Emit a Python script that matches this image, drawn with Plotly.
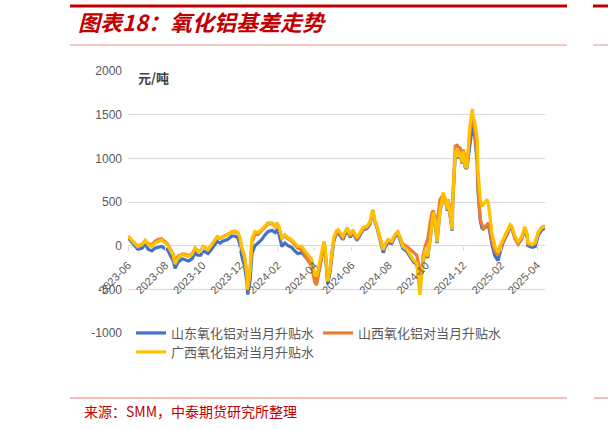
import plotly.graph_objects as go

# ---------------- data ----------------
dates = [
    "2023-06-01", "2023-06-04", "2023-06-09", "2023-06-14", "2023-06-17", "2023-06-24", "2023-06-29",
    "2023-07-04", "2023-07-10", "2023-07-15", "2023-07-20", "2023-07-26", "2023-07-31",
    "2023-08-05", "2023-08-10", "2023-08-14", "2023-08-17", "2023-08-22", "2023-08-29",
    "2023-09-03", "2023-09-08", "2023-09-14", "2023-09-19", "2023-09-23", "2023-09-28",
    "2023-10-02", "2023-10-07", "2023-10-10", "2023-10-15", "2023-10-18", "2023-10-25", "2023-10-30",
    "2023-11-03", "2023-11-11", "2023-11-18", "2023-11-23", "2023-11-28",
    "2023-12-01", "2023-12-04", "2023-12-09", "2023-12-13", "2023-12-14", "2023-12-18", "2023-12-21",
    "2023-12-26", "2023-12-31",
    "2024-01-06", "2024-01-11", "2024-01-16", "2024-01-23", "2024-01-28", "2024-01-31",
    "2024-02-03", "2024-02-08", "2024-02-13", "2024-02-18", "2024-02-24", "2024-02-29",
    "2024-03-05", "2024-03-12", "2024-03-17", "2024-03-22", "2024-03-28", "2024-03-30",
    "2024-04-02", "2024-04-05", "2024-04-10", "2024-04-14", "2024-04-17", "2024-04-19", "2024-04-22",
    "2024-04-23", "2024-04-27", "2024-04-30",
    "2024-05-03", "2024-05-07", "2024-05-10", "2024-05-18", "2024-05-25", "2024-05-30",
    "2024-06-03", "2024-06-10", "2024-06-15", "2024-06-20", "2024-06-26",
    "2024-07-01", "2024-07-06", "2024-07-09", "2024-07-13", "2024-07-18", "2024-07-23", "2024-07-26",
    "2024-07-31",
    "2024-08-06", "2024-08-11", "2024-08-16", "2024-08-19", "2024-08-24", "2024-08-31",
    "2024-09-05", "2024-09-10", "2024-09-16", "2024-09-18", "2024-09-21", "2024-09-25", "2024-09-26",
    "2024-09-30",
    "2024-10-04", "2024-10-08", "2024-10-11", "2024-10-13", "2024-10-16", "2024-10-19", "2024-10-21",
    "2024-10-24", "2024-10-27", "2024-10-29",
    "2024-11-01", "2024-11-05", "2024-11-06", "2024-11-09", "2024-11-13", "2024-11-14", "2024-11-18",
    "2024-11-21", "2024-11-23", "2024-11-26", "2024-11-29",
    "2024-12-01", "2024-12-04", "2024-12-07", "2024-12-09", "2024-12-12", "2024-12-16", "2024-12-17",
    "2024-12-20", "2024-12-24", "2024-12-25", "2024-12-29",
    "2025-01-01", "2025-01-03", "2025-01-09", "2025-01-11", "2025-01-14", "2025-01-17", "2025-01-22",
    "2025-01-27", "2025-01-30",
    "2025-02-04", "2025-02-11", "2025-02-16", "2025-02-19", "2025-02-24",
    "2025-03-01", "2025-03-07", "2025-03-12", "2025-03-16", "2025-03-17", "2025-03-24", "2025-03-29",
    "2025-04-03", "2025-04-09", "2025-04-14",
]

# 广西 (yellow)
guangxi = [
    110, 90, 50, 10, -10, 10, 60,
    10, -10, 30, 50, 65, 35,
    10, -60, -110, -210, -140, -100,
    -110, -125, -100, -25, -60, -65,
    -10, -30, -45, 0, 35, 105, 90,
    105, 125, 165, 170, 155,
    100, -10, -120, -330, -500, -260, 80,
    160, 150,
    185, 220, 262, 262, 222, 264,
    222, 92, 126, 92, 69, 31,
    -8, -8, -65, -103, -160, -250,
    -333, -353, -180, -80, 50, -23, -295,
    -410, -250, -65,
    92, 165, 184, 107, 207, 126,
    184, 92, 150, 207, 222,
    264, 414, 299, 222, 92, -46, 11,
    69,
    50, 126, 165, 92, -8, -46,
    -103, -160, -200, -353, -563, -276, -180,
    -46,
    -123, 69, 264, 380, 299, 40, 184,
    414, 494, 609,
    552, 414, 529, 356, 184, 529, 1069,
    1104, 1012, 1069, 954,
    1081, 908, 897, 1104, 1369, 1564, 1483,
    1414, 1219, 874, 529,
    449, 471, 529, 494, 333, 150, -8,
    -80, -8,
    69, 161, 241, 218, 103,
    46, 103, 218, 126, 34, 11, 34,
    150, 207, 218,
]

# 山西 (orange)
shanxi = [
    100, 85, 45, 10, -5, 15, 60,
    20, 10, 50, 70, 80, 50,
    20, -50, -100, -190, -120, -95,
    -100, -115, -95, -30, -60, -60,
    -10, -30, -45, 0, 30, 95, 85,
    100, 120, 155, 160, 145,
    90, -20, -140, -360, -510, -290, 40,
    130, 130,
    170, 210, 250, 255, 215, 258,
    215, 85, 115, 80, 55, 10,
    -30, -50, -110, -160, -240, -320,
    -420, -450, -230, -100, 20, -50, -330,
    -400, -260, -80,
    70, 145, 165, 90, 190, 110,
    165, 80, 135, 190, 205,
    250, 405, 290, 215, 85, -50, 10,
    60,
    45, 115, 155, 95, 20, -10,
    -40, -70, -110, -180, -280, -250, -120,
    0,
    80, 264, 380, 400, 330, 300, 350,
    529, 560, 563,
    520, 450, 529, 450, 414, 600, 1140,
    1150, 1130, 1120, 1060,
    1100, 1000, 930, 1050, 1300, 1500, 1450,
    1300, 1000, 700, 300,
    220, 200, 240, 260, 180, 60, -60,
    -110, -50,
    40, 140, 220, 200, 80,
    20, 90, 200, 100, 20, 10, 30,
    150, 210, 225,
]

# 山东 (blue)
shandong = [
    95, 70, 20, -20, -40, -30, 20,
    -40, -60, -30, -20, -10, -30,
    -50, -120, -170, -260, -190, -150,
    -160, -175, -150, -80, -110, -110,
    -60, -80, -90, -50, -20, 50, 30,
    50, 70, 110, 110, 90,
    20, -110, -240, -430, -560, -400, -90,
    0, 30,
    70, 120, 160, 175, 150, 175,
    140, -10, 30, 0, -20, -60,
    -90, -80, -120, -160, -220, -290,
    -380, -400, -230, -120, -10, -70, -380,
    -440, -300, -110,
    50, 130, 150, 70, 175, 95,
    150, 60, 120, 180, 195,
    240, 395, 280, 200, 65, -80, -20,
    40,
    25, 100, 140, 70, -30, -70,
    -125, -180, -215, -300, -320, -290, -200,
    -70,
    -140, 50, 245, 360, 280, 30, 170,
    400, 480, 590,
    540, 400, 510, 340, 170, 510, 1050,
    1090, 1000, 1050, 940,
    1060, 900, 880, 1000, 1200, 1370, 1330,
    1250, 950, 650, 280,
    200, 190, 220, 240, 140, 20, -120,
    -170, -90,
    30, 130, 210, 190, 80,
    20, 80, 190, 100, 0, -20, -10,
    120, 180, 200,
]

series_names = ["山东氧化铝对当月升贴水", "山西氧化铝对当月升贴水", "广西氧化铝对当月升贴水"]
series_colors = ["#4472C4", "#ED7D31", "#FFC000"]
series_legends = ["legend", "legend2", "legend3"]

x_tick_vals = ["2023-06-01", "2023-08-01", "2023-10-01", "2023-12-01", "2024-02-01", "2024-04-01",
               "2024-06-01", "2024-08-01", "2024-10-01", "2024-12-01", "2025-02-01", "2025-04-01"]
x_tick_text = ["2023-06", "2023-08", "2023-10", "2023-12", "2024-02", "2024-04",
               "2024-06", "2024-08", "2024-10", "2024-12", "2025-02", "2025-04"]
y_tick_vals = [-1000, -500, 0, 500, 1000, 1500, 2000]
y_tick_text = ["-1000", "-500", "0", "500", "1000", "1500", "2000"]
y_min, y_max = -1000, 2000

title_text = "图表18：氧化铝基差走势"
unit_text = "元/吨"
source_text = "来源：SMM，中泰期货研究所整理"

# ---------------- layout geometry (pixels) ----------------
W, H = 608, 429
PL, PR, PT, PB = 128, 545, 71, 333  # plot area in pixels
PW, PH = PR - PL, PB - PT


def px(x):
    """pixel x -> paper x (plot-area relative)"""
    return (x - PL) / PW


def py(y):
    """pixel y -> paper y (plot-area relative)"""
    return (PB - y) / PH


CJK = "Noto Sans CJK SC"
GREY = "#595959"

fig = go.Figure()
for name, vals, col, lg in zip(series_names, [shandong, shanxi, guangxi], series_colors, series_legends):
    fig.add_trace(go.Scatter(x=dates, y=vals, mode="lines", name=name, legend=lg,
                             line=dict(color=col, width=3.2)))

zero_pos = (0 - y_min) / (y_max - y_min)

legend_common = dict(
    orientation="v", xanchor="left", yanchor="middle", borderwidth=0,
    font=dict(family=CJK, size=13, color=GREY),
    itemwidth=30,
)

fig.update_layout(
    width=W, height=H,
    margin=dict(l=PL, r=W - PR, t=PT, b=H - PB, pad=0, autoexpand=False),
    paper_bgcolor="white", plot_bgcolor="white",
    font=dict(family=CJK, color=GREY),
    showlegend=True,
    xaxis=dict(
        type="date", range=[dates[0], dates[-1]], automargin=False,
        tickvals=x_tick_vals, ticktext=x_tick_text, tickangle=-45,
        anchor="free", position=zero_pos,
        showgrid=False, zeroline=False, showline=False,
        ticks="outside", ticklen=4, tickcolor="#D9D9D9",
        ticklabelstandoff=4,
        tickfont=dict(family="Liberation Sans", size=11, color=GREY),
    ),
    yaxis=dict(
        range=[y_min, y_max], tickvals=y_tick_vals, ticktext=y_tick_text, automargin=False,
        showgrid=True, gridcolor="#D9D9D9", gridwidth=1,
        zeroline=False, showline=False, ticks="",
        ticklabelstandoff=5,
        tickfont=dict(family="Liberation Sans", size=12, color=GREY),
    ),
    legend=dict(x=px(131), y=py(333), bgcolor="white", **legend_common),
    legend2=dict(x=px(318), y=py(333), bgcolor="white", **legend_common),
    legend3=dict(x=px(131), y=py(352), bgcolor="rgba(0,0,0,0)", **legend_common),
)

# title, unit, source
fig.add_annotation(text="<b><i>" + title_text + "</i></b>", xref="paper", yref="paper",
                   x=px(76), y=py(21), xanchor="left", yanchor="middle", showarrow=False,
                   font=dict(family=CJK, size=22, color="#C00000"))
fig.add_annotation(text="<b>" + unit_text + "</b>", xref="paper", yref="paper",
                   x=px(136), y=py(77), xanchor="left", yanchor="middle", showarrow=False,
                   font=dict(family=CJK, size=13, color="#404040"))
fig.add_annotation(text=source_text, xref="paper", yref="paper",
                   x=px(82), y=py(411), xanchor="left", yanchor="middle", showarrow=False,
                   font=dict(family=CJK, size=14, color="#C00000"))

# decorative rules
rules = [
    (70, 567, 6, "#C00000", 3), (593, 608, 6, "#C00000", 3),
    (70, 567, 45, "#F2B4B4", 1.5), (593, 608, 45, "#F2B4B4", 1.5),
    (70, 567, 398, "#F2A8A8", 1.5), (594, 608, 398, "#F2A8A8", 1.5),
]
for x0, x1, yy, col, wdt in rules:
    fig.add_shape(type="line", xref="paper", yref="paper",
                  x0=px(x0), x1=px(x1), y0=py(yy), y1=py(yy),
                  line=dict(color=col, width=wdt))

fig.write_html(
    "out.html",
    config={"displayModeBar": False},
    post_script="document.body.style.margin='0px';document.body.style.overflow='hidden';",
)
